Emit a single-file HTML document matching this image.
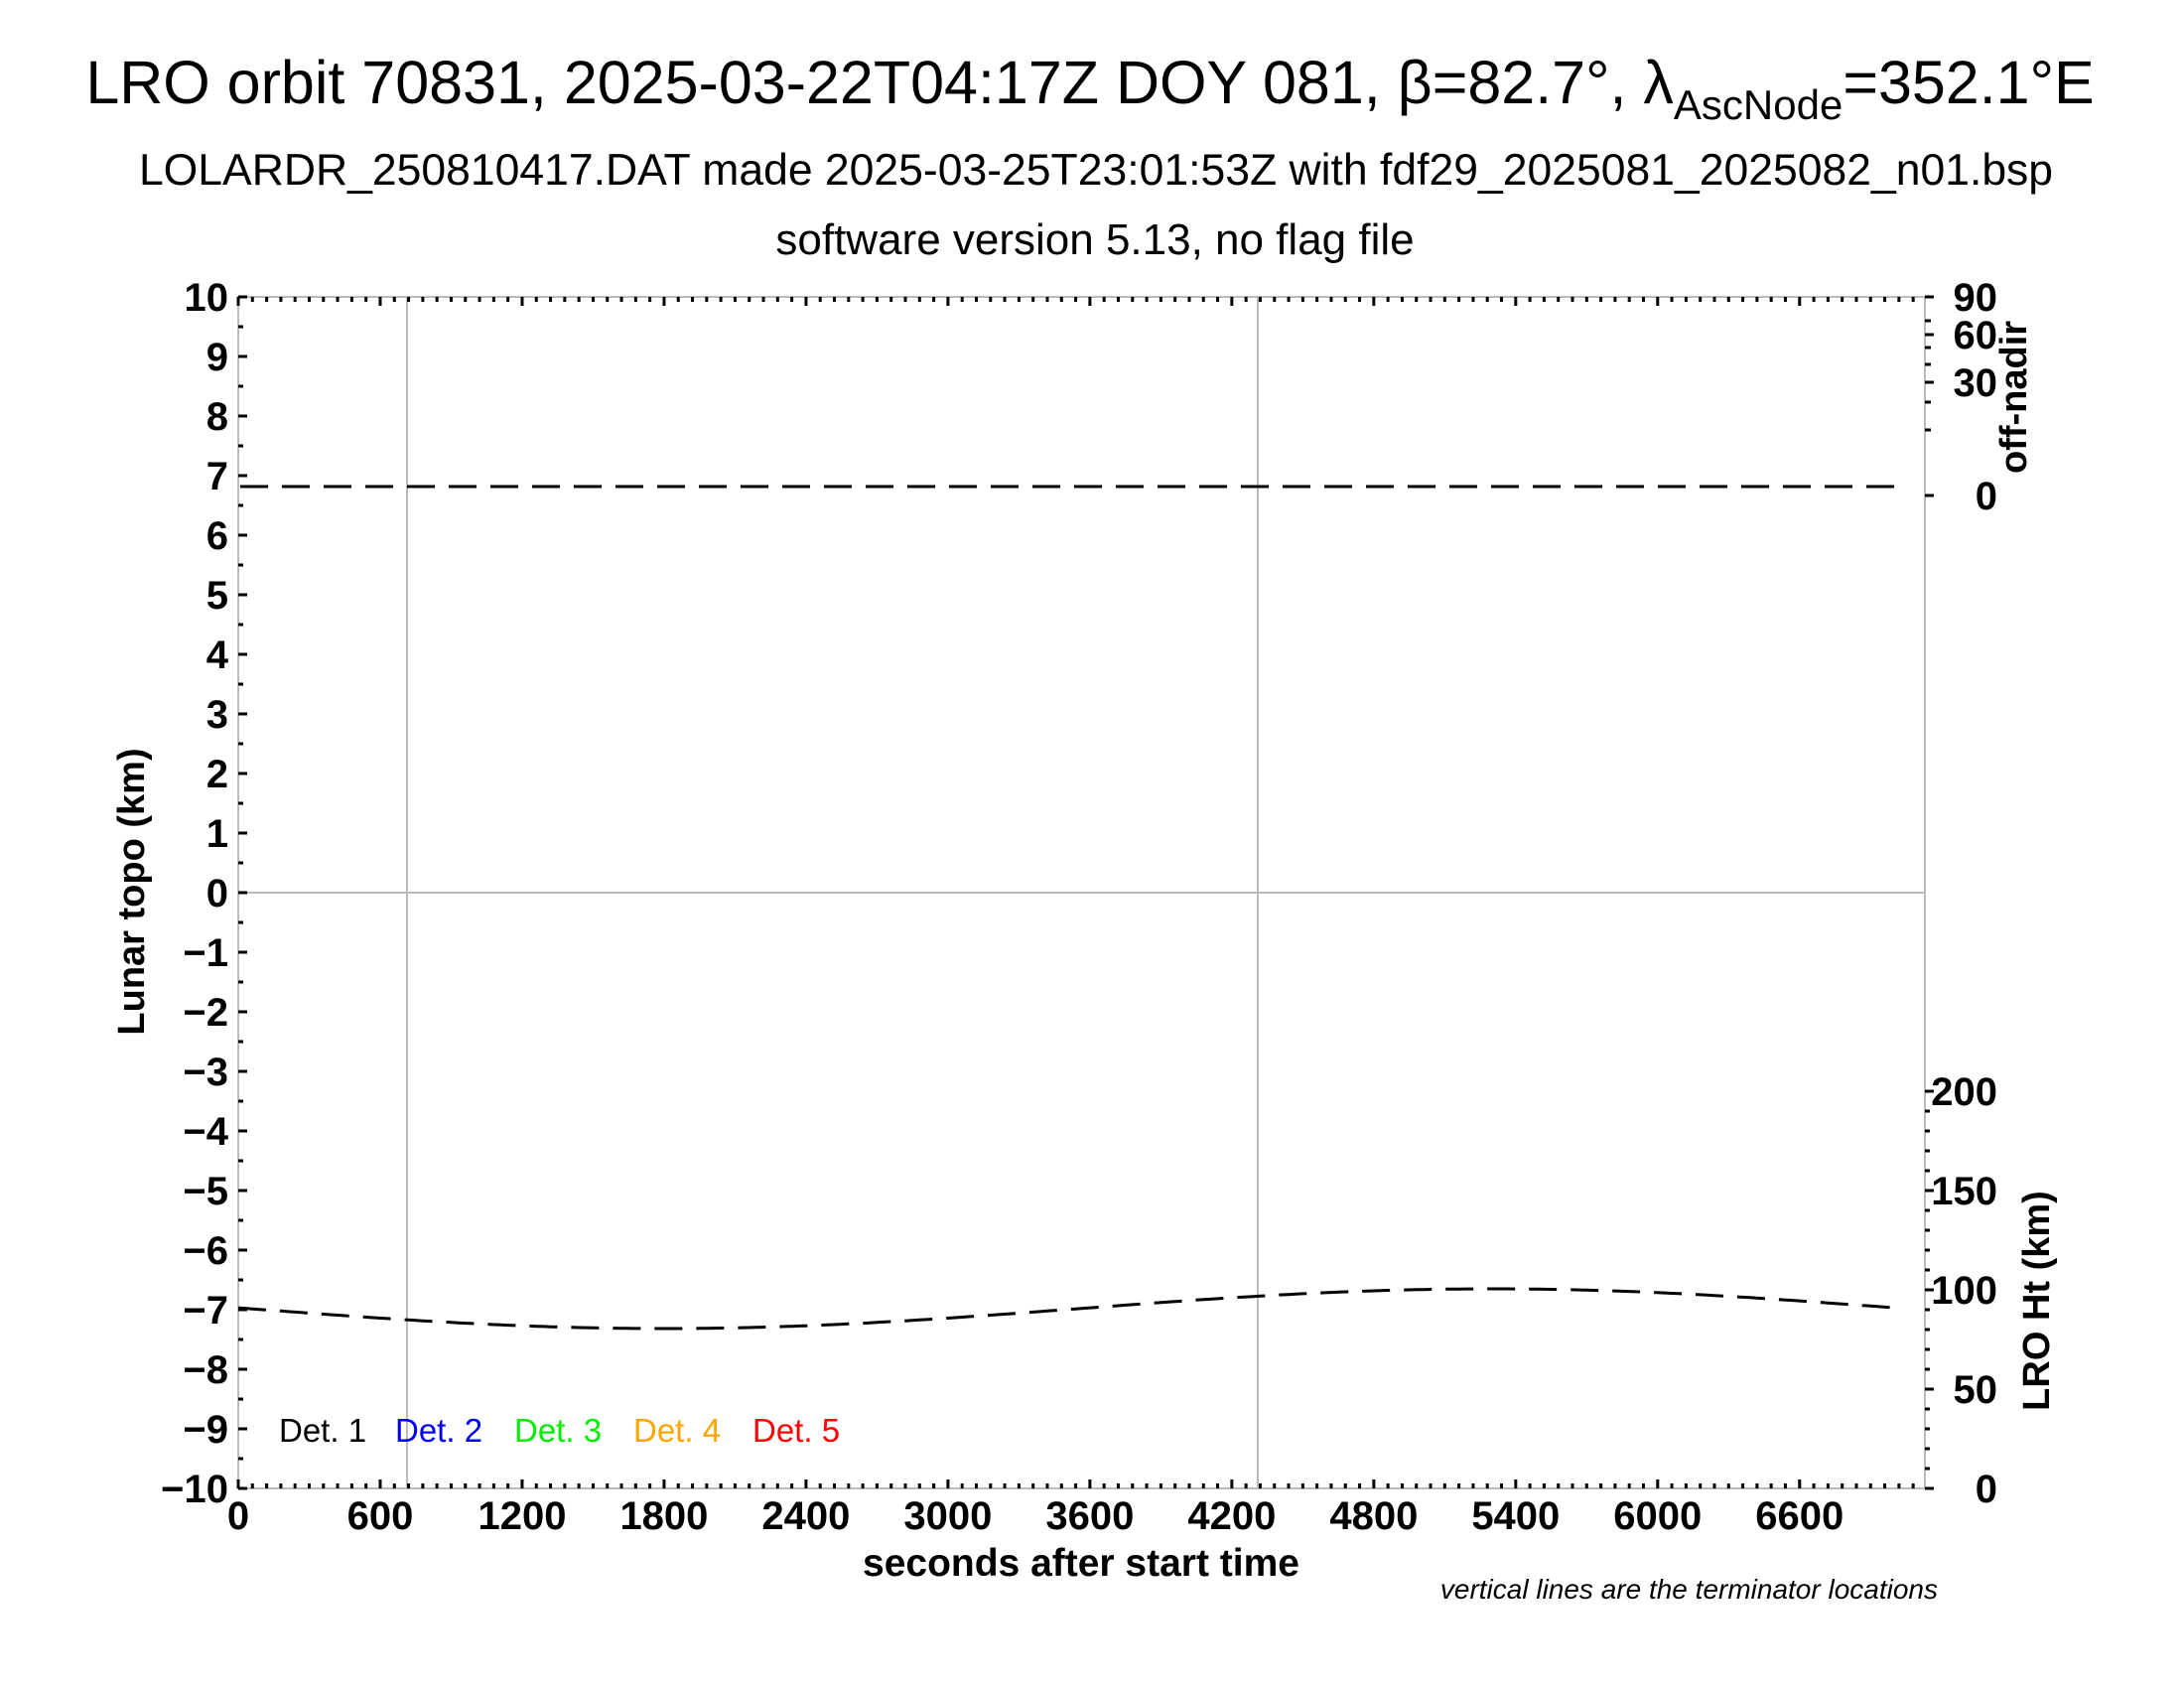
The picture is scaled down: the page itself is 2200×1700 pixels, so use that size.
<!DOCTYPE html>
<html><head><meta charset="utf-8"><style>
html,body{margin:0;padding:0;background:#fff;}
svg{display:block;font-family:"Liberation Sans",sans-serif;}
</style></head><body>
<svg width="2200" height="1700" viewBox="0 0 2200 1700" xmlns="http://www.w3.org/2000/svg">
<rect width="2200" height="1700" fill="#fff"/>
<text x="1098" y="104" font-size="61" text-anchor="middle">LRO orbit 70831, 2025-03-22T04:17Z DOY 081, β=82.7°, λ<tspan font-size="42" dy="16">AscNode</tspan><tspan dy="-16">=352.1°E</tspan></text>
<text x="1104" y="186" font-size="44.5" text-anchor="middle">LOLARDR_250810417.DAT made 2025-03-25T23:01:53Z with fdf29_2025081_2025082_n01.bsp</text>
<text x="1103" y="256" font-size="44" text-anchor="middle">software version 5.13, no flag file</text>

<g stroke="#bbb" stroke-width="2" fill="none">
<rect x="240" y="299" width="1699" height="1200"/>
<line x1="410" y1="299" x2="410" y2="1499"/>
<line x1="1267" y1="299" x2="1267" y2="1499"/>
<line x1="240" y1="899" x2="1939" y2="899"/>
</g>
<g id="ticks" stroke="#000" stroke-width="3"></g>
<g id="labels" font-size="40" font-weight="bold"></g>

<path id="c1" d="" stroke="#000" stroke-width="3" fill="none" stroke-dasharray="28,14"/>
<line x1="242" y1="490" x2="1908" y2="490" stroke="#000" stroke-width="3" stroke-dasharray="28,14"/>

<g font-size="33">
<text x="281" y="1452">Det. 1</text>
<text x="398" y="1452" fill="#0000ff">Det. 2</text>
<text x="518" y="1452" fill="#00ee00">Det. 3</text>
<text x="638" y="1452" fill="#ffa500">Det. 4</text>
<text x="758" y="1452" fill="#ff0000">Det. 5</text>
</g>
<text x="1089" y="1587" font-size="39" font-weight="bold" text-anchor="middle">seconds after start time</text>
<text x="1952" y="1610" font-size="28" font-style="italic" text-anchor="end">vertical lines are the terminator locations</text>
<text transform="translate(145,898) rotate(-90)" font-size="38" font-weight="bold" text-anchor="middle">Lunar topo (km)</text>
<text transform="translate(2041,400) rotate(-90)" font-size="38" font-weight="bold" text-anchor="middle">off-nadir</text>
<text transform="translate(2064,1310) rotate(-90)" font-size="38" font-weight="bold" text-anchor="middle">LRO Ht (km)</text>
</svg>
<script>
var ns="http://www.w3.org/2000/svg";
var T=document.getElementById("ticks"),L=document.getElementById("labels");
function ln(x1,y1,x2,y2){var e=document.createElementNS(ns,"line");e.setAttribute("x1",x1);e.setAttribute("y1",y1);e.setAttribute("x2",x2);e.setAttribute("y2",y2);T.appendChild(e);}
function tx(x,y,s,a){var e=document.createElementNS(ns,"text");e.setAttribute("x",x);e.setAttribute("y",y);e.setAttribute("text-anchor",a);e.textContent=s;L.appendChild(e);}
var k=0.2383;
for(var t=0;t*k<=1699;t+=60){var x=240+t*k,big=(t%600==0);ln(x,1499,x,1499-(big?9:5));ln(x,299,x,299+(big?9:5));
 if(big&&t<=6600)tx(x,1540,String(t),"middle");}
for(var v=-10;v<=10;v+=0.5){var y=899-v*60,big=(v%1==0);ln(240,y,240+(big?9:5),y);
 if(big)tx(230,y+14,v<0?"\u2212"+(-v):String(v),"end");}
for(var h=0;h<=200;h+=10){var y=1499-h*2;ln(1939,y,1939+(h%50==0?9:5),y);if(h%50==0)tx(2012,y+14,String(h),"end");}
[[299,"90"],[337,"60"],[385,"30"],[499,"0"]].forEach(function(p){ln(1939,p[0],1948,p[0]);tx(2012,p[0]+14,p[1],"end");});
[323,350,367,405,433].forEach(function(y){ln(1939,y,1945,y);});
var d="";for(var t=0;t<=6990;t+=30){var hh=90.5-10*Math.cos(2*Math.PI*(t-1800)/7000);d+=(t?"L":"M")+(240+t*k).toFixed(1)+","+(1499-hh*2).toFixed(1);}
document.getElementById("c1").setAttribute("d",d);
</script>
</body></html>
